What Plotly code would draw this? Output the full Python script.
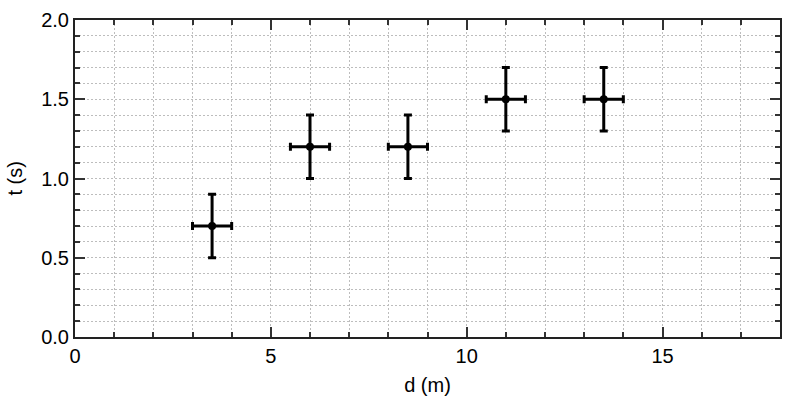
import plotly.graph_objects as go

d_m = [3.5, 6.0, 8.5, 11.0, 13.5]
t_s = [0.7, 1.2, 1.2, 1.5, 1.5]
d_err = [0.5, 0.5, 0.5, 0.5, 0.5]
t_err = [0.2, 0.2, 0.2, 0.2, 0.2]

FONT = "Liberation Sans, Arial, Helvetica"

fig = go.Figure(go.Scatter(
    x=d_m, y=t_s, mode="markers",
    marker=dict(color="black", size=8),
    error_x=dict(type="data", array=d_err, color="black", thickness=3, width=4),
    error_y=dict(type="data", array=t_err, color="black", thickness=3, width=4),
    hoverinfo="skip",
))

grid = dict(showgrid=True, gridcolor="#bdbdbd", griddash="2px,2px", gridwidth=1)
axcommon = dict(
    showline=True, linecolor="#222", linewidth=2, mirror="ticks",
    ticks="inside", ticklen=10, tickwidth=2, tickcolor="#333",
    zeroline=False, automargin=False,
    tickfont=dict(family=FONT, size=20, color="black"),
    **grid,
)
fig.update_xaxes(
    range=[0, 18], dtick=5, tick0=0,
    minor=dict(dtick=1, ticks="inside", ticklen=5, tickwidth=2, tickcolor="#333", **grid),
    title=dict(text="d (m)", font=dict(family=FONT, size=20, color="black"), standoff=12),
    **axcommon,
)
fig.update_yaxes(
    range=[0, 2], dtick=0.5, tick0=0, tickformat=".1f",
    minor=dict(dtick=0.1, ticks="inside", ticklen=5, tickwidth=2, tickcolor="#333", **grid),
    **axcommon,
)
fig.add_annotation(
    text="t (s)", xref="paper", yref="paper", x=-0.0865, y=0.5,
    xanchor="center", yanchor="middle", textangle=-90, showarrow=False,
    font=dict(family=FONT, size=20, color="black"),
)
fig.update_layout(
    width=800, height=400,
    margin=dict(l=75, r=20, t=20, b=63),
    plot_bgcolor="white", paper_bgcolor="white",
    showlegend=False,
)
fig.write_html("out.html", config={"displayModeBar": False},
               post_script="document.body.style.margin='0';")
